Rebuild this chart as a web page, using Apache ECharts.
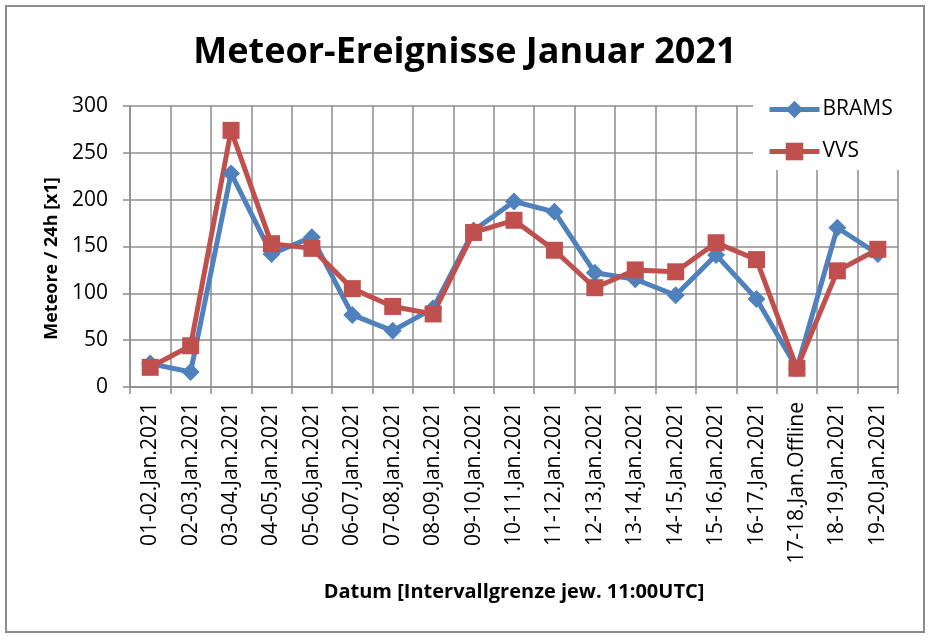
<!DOCTYPE html>
<html>
<head>
<meta charset="utf-8">
<title>Meteor-Ereignisse Januar 2021</title>
<script src="https://cdn.jsdelivr.net/npm/echarts@6/dist/echarts.min.js"></script>
<style>
  html, body { margin: 0; padding: 0; background: #fff; }
  #main { width: 930px; height: 637px; }
</style>
</head>
<body>
<div id="main"></div>
<script>
// Kategorien (Intervalle jeweils 11:00 UTC)
var categories = [
    '01-02.Jan.2021', '02-03.Jan.2021', '03-04.Jan.2021', '04-05.Jan.2021',
    '05-06.Jan.2021', '06-07.Jan.2021', '07-08.Jan.2021', '08-09.Jan.2021',
    '09-10.Jan.2021', '10-11.Jan.2021', '11-12.Jan.2021', '12-13.Jan.2021',
    '13-14.Jan.2021', '14-15.Jan.2021', '15-16.Jan.2021', '16-17.Jan.2021',
    '17-18.Jan.Offline', '18-19.Jan.2021', '19-20.Jan.2021'
];
// Werte
var bramsValues = [25, 16, 228, 142, 160, 77, 60, 84, 167, 198, 187, 122, 115, 98, 141, 94, 20, 170, 142];
var vvsValues = [21, 44, 274, 153, 148, 105, 86, 78, 165, 178, 146, 106, 125, 123, 154, 136, 20, 124, 147];
var yTicks = [0, 50, 100, 150, 200, 250, 300];

var myChart = echarts.init(document.getElementById('main'));

var font = '"Open Sans", sans-serif';
var gridColor = '#8c8c8c';

option = {
    backgroundColor: '#fff',
    textStyle: { fontFamily: font, color: '#000' },
    title: {
        text: 'Meteor-Ereignisse Januar 2021',
        left: 'center',
        top: 30,
        textStyle: { fontFamily: font, fontSize: 36, fontWeight: 'bold', color: '#000' }
    },
    graphic: [
        {
            type: 'rect',
            shape: { x: 6, y: 6, width: 918, height: 626 },
            style: { fill: 'none', stroke: '#8c8c8c', lineWidth: 2 },
            z: -1
        }
    ],
    legend: {
        orient: 'vertical',
        left: 753,
        top: 94,
        itemWidth: 50,
        itemHeight: 22,
        itemGap: 21,
        padding: [5, 8, 8, 14],
        backgroundColor: '#fff',
        lineStyle: { width: 5 },
        textStyle: { fontFamily: font, fontSize: 21, color: '#000', padding: [0, 0, 0, -2] },
        data: ['BRAMS', 'VVS']
    },
    grid: {
        left: 130,
        right: 32,
        top: 106,
        bottom: 250
    },
    xAxis: [
        {
            type: 'category',
            data: categories,
            boundaryGap: true,
            name: 'Datum [Intervallgrenze jew. 11:00UTC]',
            nameLocation: 'middle',
            nameGap: 195,
            nameTextStyle: { fontFamily: font, fontSize: 20, fontWeight: 'bold', color: '#000' },
            axisLine: { lineStyle: { color: gridColor, width: 1.5 } },
            axisTick: { show: true, length: 7, lineStyle: { color: gridColor, width: 1.5 } },
            axisLabel: {
                rotate: 90,
                interval: 0,
                margin: 15,
                fontFamily: font,
                fontSize: 21,
                color: '#000'
            },
            splitLine: { show: true, lineStyle: { color: gridColor, width: 1.5 } }
        }
    ],
    yAxis: [
        {
            type: 'value',
            min: yTicks[0],
            max: yTicks[yTicks.length - 1],
            interval: 50,
            name: 'Meteore / 24h [x1]',
            nameLocation: 'middle',
            nameGap: 68,
            nameTextStyle: {
                fontFamily: font, fontSize: 18, fontWeight: 'bold', color: '#000',
                padding: [0, 24, 0, 0]
            },
            axisLine: { show: true, lineStyle: { color: gridColor, width: 1.5 } },
            axisTick: { show: true, length: 7, lineStyle: { color: gridColor, width: 1.5 } },
            axisLabel: { margin: 22, fontFamily: font, fontSize: 21, color: '#000' },
            splitLine: { show: true, lineStyle: { color: gridColor, width: 1.5 } }
        }
    ],
    series: [
        {
            name: 'BRAMS',
            type: 'line',
            data: bramsValues,
            symbol: 'diamond',
            symbolSize: 18,
            lineStyle: { width: 5, color: '#4f81bd' },
            itemStyle: { color: '#4f81bd' }
        },
        {
            name: 'VVS',
            type: 'line',
            data: vvsValues,
            symbol: 'rect',
            symbolSize: 17,
            lineStyle: { width: 5, color: '#c0504d' },
            itemStyle: { color: '#c0504d' }
        }
    ]
};
// 使用刚指定的配置项和数据显示图表。
myChart.setOption(option);
</script>
</body>
</html>
